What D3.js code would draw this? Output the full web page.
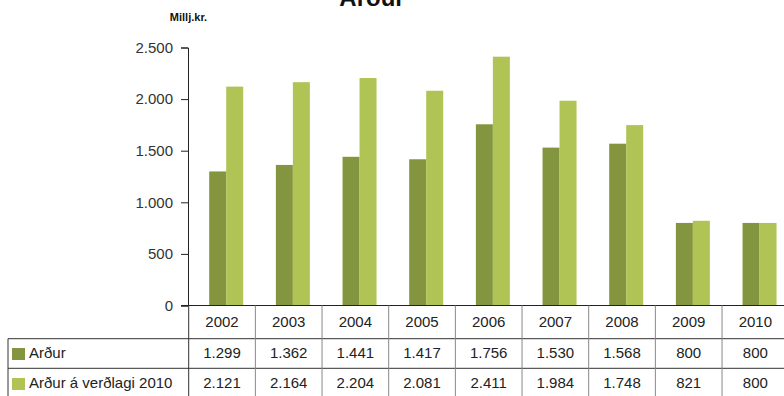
<!DOCTYPE html>
<html>
<head>
<meta charset="utf-8">
<script src="https://cdn.jsdelivr.net/npm/d3@7"></script>
<style>
  body { margin: 0; background: #fff; }
  svg text { font-family: "Liberation Sans", Arial, sans-serif; }
</style>
</head>
<body>
<script>
const width = 784;
const height = 396;

const years = ['2002', '2003', '2004', '2005', '2006', '2007', '2008', '2009', '2010'];
const seriesNames = ['Arður', 'Arður á verðlagi 2010'];
const ardur = [1299, 1362, 1441, 1417, 1756, 1530, 1568, 800, 800];
const ardurVerdlag = [2121, 2164, 2204, 2081, 2411, 1984, 1748, 821, 800];
const yTicks = [0, 500, 1000, 1500, 2000, 2500];
const colors = ['#83963f', '#afc455'];

const series = [ardur, ardurVerdlag];

const locale = d3.formatLocale({ decimal: ',', thousands: '.', grouping: [3], currency: ['', ' kr.'] });
const fmt = locale.format(',d');

const svg = d3.select('body').append('svg')
  .attr('width', width)
  .attr('height', height);

const x = d3.scaleBand().domain(years).range([188.7, 788.7]);
const x1 = d3.scaleBand().domain(d3.range(series.length)).range([20.5, 54.5]);
const y = d3.scaleLinear().domain([0, 2500]).range([305.5, 47.5]);

// title (cut off at top in the original)
svg.append('text')
  .attr('x', 372)
  .attr('y', 6)
  .attr('text-anchor', 'middle')
  .attr('font-size', 24)
  .attr('font-weight', 'bold')
  .attr('fill', '#111')
  .text('Arður');

svg.append('text')
  .attr('x', 188.5)
  .attr('y', 21)
  .attr('text-anchor', 'middle')
  .attr('font-size', 11)
  .attr('font-weight', 'bold')
  .attr('fill', '#111')
  .text('Millj.kr.');

// bars
const groups = svg.append('g').selectAll('g')
  .data(series)
  .join('g')
  .attr('fill', (d, i) => colors[i]);

groups.each(function(vals, si) {
  d3.select(this).selectAll('rect')
    .data(vals)
    .join('rect')
    .attr('x', (d, i) => x(years[i]) + x1(si))
    .attr('width', x1.bandwidth())
    .attr('y', d => y(d))
    .attr('height', d => y(0) - y(d));
});

// y axis
const yAxis = d3.axisLeft(y)
  .tickValues(yTicks)
  .tickSize(7)
  .tickPadding(8)
  .tickFormat(fmt);

const gy = svg.append('g')
  .attr('transform', 'translate(188,0)')
  .call(yAxis);
gy.select('.domain').attr('stroke', '#222');
gy.selectAll('.tick line').attr('stroke', '#222');
gy.selectAll('.tick text')
  .attr('font-size', 15)
  .attr('fill', '#333')
  .style('font-family', '"Liberation Sans", Arial, sans-serif');

// table below chart
const table = svg.append('g');
const rowLines = [338.7, 368.3];

// top line (baseline of chart)
table.append('line')
  .attr('x1', 181).attr('x2', width)
  .attr('y1', y(0)).attr('y2', y(0))
  .attr('stroke', '#222');

table.selectAll('line.row')
  .data(rowLines)
  .join('line')
  .attr('class', 'row')
  .attr('x1', 8).attr('x2', width)
  .attr('y1', d => d).attr('y2', d => d)
  .attr('stroke', '#333');

table.append('line')
  .attr('x1', 8).attr('x2', 8)
  .attr('y1', rowLines[0]).attr('y2', height)
  .attr('stroke', '#333');

table.selectAll('line.col')
  .data(years)
  .join('line')
  .attr('class', 'col')
  .attr('x1', d => x(d)).attr('x2', d => x(d))
  .attr('y1', y(0)).attr('y2', height)
  .attr('stroke', d => d === years[0] ? '#333' : '#888');

table.selectAll('text.year')
  .data(years)
  .join('text')
  .attr('class', 'year')
  .attr('x', d => x(d) + x.bandwidth() / 2)
  .attr('y', 327)
  .attr('text-anchor', 'middle')
  .attr('font-size', 15)
  .attr('fill', '#222')
  .text(d => d);

const rowBase = [358, 388];
series.forEach((vals, si) => {
  table.append('rect')
    .attr('x', 12).attr('y', rowBase[si] - 10)
    .attr('width', 13).attr('height', 12)
    .attr('fill', colors[si]);
  table.append('text')
    .attr('x', 29).attr('y', rowBase[si])
    .attr('font-size', 15)
    .attr('fill', '#222')
    .text(seriesNames[si]);
  table.selectAll('text.v' + si)
    .data(vals)
    .join('text')
    .attr('class', 'v' + si)
    .attr('x', (d, i) => x(years[i]) + x.bandwidth() / 2)
    .attr('y', rowBase[si])
    .attr('text-anchor', 'middle')
    .attr('font-size', 15)
    .attr('fill', '#222')
    .text(d => fmt(d));
});
</script>
</body>
</html>
